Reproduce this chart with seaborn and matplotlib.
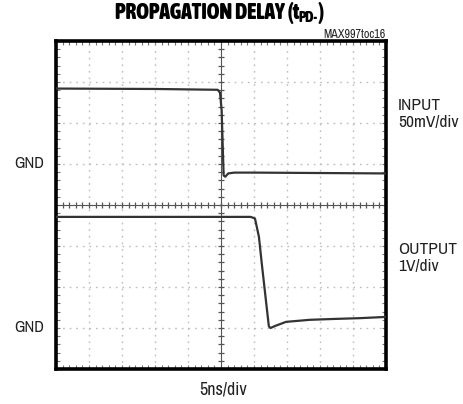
import numpy as np
import matplotlib
matplotlib.use("Agg")
import matplotlib.pyplot as plt
import seaborn as sns
from matplotlib import font_manager as fm

# ---- data (divisions; x: 5ns/div, y: screen divisions) ----
input_x = [0.0, 3.0, 4.90, 4.97, 5.02, 5.05, 5.08, 5.13, 5.22, 5.40, 6.0, 8.0, 10.0]
input_y = [6.84, 6.83, 6.81, 6.74, 6.30, 5.50, 4.72, 4.69, 4.77, 4.79, 4.79, 4.78, 4.77]
output_x = [0.0, 5.90, 6.03, 6.15, 6.24, 6.36, 6.45, 6.50, 6.64, 6.97, 7.70, 8.40, 9.20, 10.0]
output_y = [3.71, 3.71, 3.67, 3.22, 2.54, 1.68, 1.04, 1.00, 1.05, 1.15, 1.20, 1.22, 1.24, 1.27]
gnd_levels = [5.0, 1.0]
channel_labels = ["INPUT\n50mV/div", "OUTPUT\n1V/div"]
x_label = "5ns/div"
title_main = "PROPAGATION DELAY (t"
title_sub = "PD-"
title_end = ")"
tag = "MAX997toc16"

sns.set_style("white")

# body font: first narrow/condensed family by name (as matplotlib resolves it)
cond = None
for f in fm.fontManager.ttflist:
    if "Narrow" in f.name or "Condensed" in f.name:
        cond = f.name
        break
if cond is None:
    cond = "Roboto"
body_fp = fm.FontProperties(family=[cond, "DejaVu Sans"], weight="normal")


def wnum(w):
    if isinstance(w, int):
        return w
    return {"bold": 700, "black": 900, "heavy": 900, "extra bold": 800,
            "semibold": 600, "demibold": 600}.get(str(w), 400)


bold = sorted([f for f in fm.fontManager.ttflist
               if ("Narrow" in f.name or "Condensed" in f.name or "Condensed" in f.fname)
               and "Italic" not in f.fname and "Oblique" not in f.fname
               and str(f.style) == "normal" and wnum(f.weight) >= 700],
              key=lambda f: -wnum(f.weight))
if bold:
    title_fp = fm.FontProperties(fname=bold[0].fname)
else:
    title_fp = fm.FontProperties(family="Roboto", weight="black")

W, H = 463, 404
fig = plt.figure(figsize=(W / 100, H / 100), dpi=100)
ax = fig.add_axes([56 / W, 1 - 369 / H, 330 / W, 328 / H])
ax.set_xlim(0, 10)
ax.set_ylim(0, 8)

# dotted graticule
for gx in range(1, 10):
    if gx != 5:
        ax.axvline(gx, color="#bdbdbd", lw=1.0, ls=(0, (1.2, 3.55)), zorder=1)
for gy in range(1, 8):
    if gy != 4:
        ax.axhline(gy, color="#bdbdbd", lw=1.0, ls=(0, (1.2, 3.55)), zorder=1)

# center cross with minor ticks
ax.axvline(5, color="#555555", lw=0.8, zorder=2)
ax.axhline(4, color="#555555", lw=0.8, zorder=2)
mx = np.arange(0.2, 10, 0.2)
my = np.arange(0.2, 8, 0.2)
ax.plot(mx, np.full_like(mx, 4.0), ls="none", marker="|", ms=5, mew=0.9, color="#555555", zorder=2)
ax.plot(np.full_like(my, 5.0), my, ls="none", marker="_", ms=5, mew=0.9, color="#555555", zorder=2)

# traces
sns.lineplot(x=input_x, y=input_y, ax=ax, color="#333333", lw=1.6, sort=False, estimator=None, zorder=3)
sns.lineplot(x=output_x, y=output_y, ax=ax, color="#333333", lw=1.6, sort=False, estimator=None, zorder=3)

# frame and inward ticks
for s in ax.spines.values():
    s.set_visible(True)
    s.set_color("black")
    s.set_linewidth(2.6)
ax.set_xticks(np.arange(0, 10.01, 0.2))
ax.set_yticks(np.arange(0, 8.01, 0.2))
ax.set_xticklabels([])
ax.set_yticklabels([])
ax.tick_params(direction="in", length=3, width=0.8, color="#777777",
               top=True, bottom=True, left=True, right=True)
ax.set_xlabel("")
ax.set_ylabel("")

r = fig.canvas.get_renderer()


def fit(t, target_w):
    w = t.get_window_extent(r).width
    t.set_fontsize(t.get_fontsize() * target_w / w)


def txt(x, y, s, **kw):
    return fig.text(x / W, 1 - y / H, s, color="#222222", fontproperties=body_fp.copy(), **kw)


# side labels
for g in gnd_levels:
    yp = 369 - g * 41
    t = txt(44, yp, "GND", ha="right", va="center")
    t.set_fontsize(12)
    fit(t, 30)
ti = txt(398, 114, channel_labels[0], ha="left", va="center", linespacing=1.2)
ti.set_fontsize(12)
fit(ti, 60)
to = txt(398, 258, channel_labels[1], ha="left", va="center", linespacing=1.2)
to.set_fontsize(ti.get_fontsize())
tx = txt(223, 389, x_label, ha="center", va="center")
tx.set_fontsize(12)
fit(tx, 47)
tt = txt(385, 35, tag, ha="right", va="center")
tt.set_fontsize(7)
fit(tt, 62)

# title in pieces
fs = 15.5
t1 = fig.text(0, 1 - 13 / H, title_main, ha="left", va="center", color="black",
              fontproperties=title_fp.copy())
t1.set_fontsize(fs)
t2 = fig.text(0, 1 - 18 / H, title_sub, ha="left", va="center", color="black",
              fontproperties=title_fp.copy())
t2.set_fontsize(fs * 0.68)
t3 = fig.text(0, 1 - 13 / H, title_end, ha="left", va="center", color="black",
              fontproperties=title_fp.copy())
t3.set_fontsize(fs)
w1 = t1.get_window_extent(r).width
w2 = t2.get_window_extent(r).width
w3 = t3.get_window_extent(r).width
total = w1 + w2 + w3
x0 = 219 - total / 2
t1.set_x(x0 / W)
t2.set_x((x0 + w1) / W)
t3.set_x((x0 + w1 + w2) / W)

fig.savefig("out.png", dpi=100)
